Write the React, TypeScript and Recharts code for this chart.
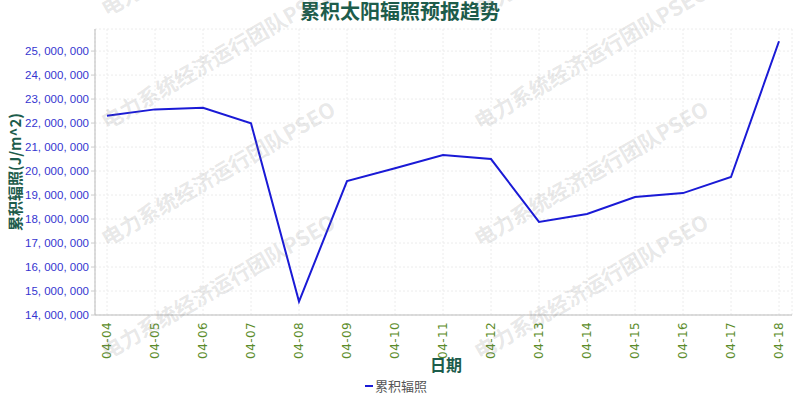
import React from "react";
import {
  LineChart,
  Line,
  XAxis,
  YAxis,
  CartesianGrid,
  Legend,
} from "recharts";

const dates = [
  "04-04", "04-05", "04-06", "04-07", "04-08", "04-09", "04-10", "04-11",
  "04-12", "04-13", "04-14", "04-15", "04-16", "04-17", "04-18",
];

const irradiance = [
  22300000, 22570000, 22640000, 21990000, 14560000, 19580000, 20120000,
  20670000, 20500000, 17880000, 18210000, 18920000, 19080000, 19750000,
  25410000,
];

const yTicks = [
  14000000, 15000000, 16000000, 17000000, 18000000, 19000000, 20000000,
  21000000, 22000000, 23000000, 24000000, 25000000,
];

const watermarkSpots = [
  [107, 17], [107, 130], [107, 247], [107, 360],
  [480, 17], [480, 130], [480, 247], [480, 360],
];

const data = dates.map((d, i) => ({ date: d, value: irradiance[i] }));

const DARK_GREEN = "#1d5c4b";
const CJK = '"Noto Sans CJK SC", "Noto Sans", sans-serif';

function fmt(n: number): string {
  return n.toLocaleString("en-US").replace(/,/g, ", ");
}

function DateTick(props: any) {
  const { x, payload } = props;
  const y = 322;
  return (
    <text
      x={x}
      y={y}
      dy={4}
      transform={`rotate(-90, ${x}, ${y})`}
      textAnchor="end"
      fill="#5b8c2a"
      fontSize={12}
      letterSpacing={0.4}
      fontFamily='"DejaVu Sans", sans-serif'
    >
      {payload.value}
    </text>
  );
}

function LegendBox() {
  return (
    <div
      style={{
        display: "flex",
        justifyContent: "center",
        alignItems: "center",
        fontFamily: CJK,
        fontSize: 13,
        color: "#555",
      }}
    >
      <span
        style={{
          display: "inline-block",
          width: 8,
          height: 2,
          background: "#1a1ad6",
          marginRight: 2,
        }}
      />
      累积辐照
    </div>
  );
}

export default function App() {
  return (
    <div style={{ position: "absolute", left: 0, top: 0, width: 800, height: 400, background: "#fff" }}>
      <LineChart
        width={800}
        height={400}
        data={data}
        margin={{ top: 29, right: 8, bottom: 0, left: 0 }}
      >
        <CartesianGrid stroke="#ececec" strokeDasharray="2 2" />
        <XAxis
          dataKey="date"
          interval={0}
          height={61}
          padding={{ left: 12, right: 13 }}
          tick={<DateTick />}
          tickLine={false}
          axisLine={{ stroke: "#bbb" }}
        />
        <XAxis
          xAxisId="top"
          dataKey="date"
          orientation="top"
          height={0}
          tick={false}
          tickLine={false}
          axisLine={{ stroke: "#bbb" }}
        />
        <YAxis
          width={95}
          domain={[14000000, 25920000]}
          ticks={yTicks}
          tickFormatter={fmt}
          tick={{ fill: "#3535d0", fontSize: 11.5, fontFamily: '"Liberation Sans", sans-serif' }}
          tickLine={{ stroke: "#ccc" }}
          tickSize={4}
          tickMargin={2}
          axisLine={{ stroke: "#bbb" }}
        />
        <YAxis
          yAxisId="right"
          orientation="right"
          width={0}
          domain={[14000000, 25920000]}
          tick={false}
          tickLine={false}
          axisLine={{ stroke: "#bbb" }}
        />
        <Legend verticalAlign="bottom" height={24} content={() => <LegendBox />} />
        <Line
          type="linear"
          dataKey="value"
          name="累积辐照"
          stroke="#1a1ad6"
          strokeWidth={2}
          dot={false}
          isAnimationActive={false}
        />
      </LineChart>
      <svg
        width={800}
        height={400}
        style={{ position: "absolute", left: 0, top: 0, pointerEvents: "none" }}
      >
        <text
          x={400}
          y={19}
          textAnchor="middle"
          fill={DARK_GREEN}
          fontSize={20}
          fontWeight="bold"
          fontFamily={CJK}
        >
          累积太阳辐照预报趋势
        </text>
        <text
          x={21}
          y={172}
          textAnchor="middle"
          transform="rotate(-90, 21, 172)"
          fill={DARK_GREEN}
          fontSize={15}
          fontWeight="bold"
          fontFamily={CJK}
        >
          累积辐照(J/m^2)
        </text>
        <text
          x={446}
          y={371}
          textAnchor="middle"
          fill={DARK_GREEN}
          fontSize={16}
          fontWeight="bold"
          fontFamily={CJK}
        >
          日期
        </text>
        {watermarkSpots.map(([wx, wy], i) => (
          <text
            key={i}
            x={wx}
            y={wy}
            transform={`rotate(-30, ${wx}, ${wy})`}
            fill="rgba(120,120,120,0.18)"
            fontSize={21}
            fontWeight="bold"
            fontFamily={CJK}
          >
            电力系统经济运行团队PSEO
          </text>
        ))}
      </svg>
    </div>
  );
}
